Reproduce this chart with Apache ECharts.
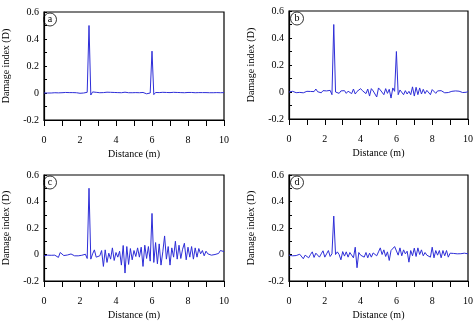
<!DOCTYPE html>
<html>
<head>
<meta charset="utf-8">
<script src="https://cdn.jsdelivr.net/npm/echarts@6/dist/echarts.min.js"></script>
<style>
  html, body { margin: 0; padding: 0; background: #ffffff; }
  #chart_example { width: 476px; height: 321px; }
</style>
</head>
<body>
<div id="chart_example"></div>
<script>
// distance along the beam (m)
var distance = [0, 0.1, 0.2, 0.3, 0.4, 0.5, 0.6, 0.7, 0.8, 0.9,
  1, 1.1, 1.2, 1.3, 1.4, 1.5, 1.6, 1.7, 1.8, 1.9,
  2, 2.1, 2.2, 2.3, 2.4, 2.5, 2.6, 2.7, 2.8, 2.9,
  3, 3.1, 3.2, 3.3, 3.4, 3.5, 3.6, 3.7, 3.8, 3.9,
  4, 4.1, 4.2, 4.3, 4.4, 4.5, 4.6, 4.7, 4.8, 4.9,
  5, 5.1, 5.2, 5.3, 5.4, 5.5, 5.6, 5.7, 5.8, 5.9,
  6, 6.1, 6.2, 6.3, 6.4, 6.5, 6.6, 6.7, 6.8, 6.9,
  7, 7.1, 7.2, 7.3, 7.4, 7.5, 7.6, 7.7, 7.8, 7.9,
  8, 8.1, 8.2, 8.3, 8.4, 8.5, 8.6, 8.7, 8.8, 8.9,
  9, 9.1, 9.2, 9.3, 9.4, 9.5, 9.6, 9.7, 9.8, 9.9, 10];

// damage index, panel a
var damageA = [0, 0, 0, 0, 0, 0, 0.002, -0.002, 0.001, 0,
  0.002, -0.003, 0.004, -0.003, 0.003, -0.002, 0.003, -0.004, 0.002, 0.004,
  -0.002, 0.003, 0, 0.002, 0.005, 0.5, -0.015, 0.008, 0.003, 0.005,
  -0.003, 0.002, -0.006, 0.003, -0.002, 0.006, 0.002, 0.005, -0.002, 0.004,
  -0.004, 0.003, -0.003, 0.002, -0.004, 0.006, -0.005, 0.002, -0.003, 0.002,
  -0.004, 0.003, -0.002, 0.002, -0.004, 0.004, -0.003, -0.006, 0.003, 0,
  0.31, -0.012, 0.004, 0, 0.003, -0.004, 0.005, -0.002, 0.004, -0.004,
  0.003, -0.002, 0.005, -0.003, 0.004, -0.002, 0.003, -0.003, 0.002, -0.004,
  0.004, -0.002, 0.004, -0.003, 0.002, -0.002, 0.003, -0.003, 0.003, -0.002,
  0.003, -0.002, 0.002, -0.001, 0.002, -0.002, 0.003, -0.001, 0.002, 0.004, 0.003];

// panel b
var damageB = [0, 0.002, 0.005, 0.008, -0.005, 0.006, -0.003, 0.004, -0.006, 0.003,
  0.005, -0.008, 0.004, -0.004, 0.003, 0.022, 0.002, 0.008, -0.006, 0.01,
  -0.004, 0.008, 0.002, 0.012, -0.02, 0.5, 0, 0.012, -0.01, 0.008,
  -0.006, 0.01, -0.01, 0.006, 0.02, -0.012, 0.022, -0.015, 0.004, -0.008,
  0.025, 0.01, 0.015, -0.012, 0.022, -0.03, 0.025, 0.008, 0.022, -0.037,
  0.03, 0.015, 0.022, -0.02, 0.025, -0.01, 0.02, -0.045, 0.03, 0.005,
  0.3, -0.02, 0.015, 0.01, -0.02, 0.01, -0.015, 0.005, -0.02, 0.038,
  -0.03, 0.035, -0.02, 0.03, -0.015, 0.02, -0.012, 0.012, 0, -0.02,
  0.018, 0.012, -0.01, 0.008, -0.006, 0.01, 0.004, -0.006, 0.006, -0.004,
  0.008, 0.005, -0.003, 0.008, -0.005, 0.006, 0.002, -0.004, 0.005, -0.002, 0.003];

// panel c
var damageC = [-0.01, -0.012, -0.005, -0.008, -0.006, -0.01, -0.005, -0.008, -0.022, 0.015,
  0.002, -0.008, 0, -0.004, 0.008, 0.004, 0.012, -0.01, -0.022, -0.01,
  0, -0.006, -0.012, 0.002, -0.03, 0.5, -0.035, 0.005, 0.035, -0.02,
  -0.03, -0.01, 0.03, -0.09, 0.035, -0.06, 0.01, -0.035, 0.05, -0.045,
  0.015, -0.02, 0.025, -0.08, 0.068, -0.14, 0.06, -0.075, 0.045, -0.04,
  0.03, -0.015, 0.05, -0.02, 0.055, -0.09, 0.07, -0.03, 0.06, -0.05,
  0.31, -0.06, 0.09, -0.07, 0.08, -0.08, 0.02, 0.14, -0.035, 0.06,
  -0.08, 0.05, -0.02, 0.1, -0.035, 0.07, -0.03, 0.04, 0.085, -0.04,
  0.055, -0.02, 0.06, -0.035, 0.05, -0.02, 0.045, 0.005, 0.03, -0.01,
  0.025, 0.005, 0.015, -0.005, 0.01, 0, -0.005, 0.008, 0.03, 0.03, 0.022];

// panel d
var damageD = [-0.005, -0.004, -0.01, -0.002, -0.008, -0.015, 0.002, -0.01, -0.032, -0.005,
  0.002, -0.025, 0, 0.02, -0.022, 0.01, 0.018, -0.02, 0.005, 0.028,
  -0.02, 0.005, 0.03, -0.015, 0.005, 0.29, 0, 0.02, 0, -0.04,
  0.022, -0.012, 0.02, -0.02, 0.015, 0.03, -0.025, 0.055, -0.1, 0.015,
  -0.005, 0.01, -0.02, 0.015, -0.025, 0.01, -0.02, 0.012, 0.025, -0.01,
  0.02, 0.05, 0, 0.035, -0.015, 0.02, -0.045, 0.03, 0.045, 0.06,
  0.075, -0.005, 0.05, -0.01, 0.035, 0.005, 0.025, -0.058, 0.03, -0.01,
  0.048, -0.015, 0.05, 0, 0.035, -0.01, 0.015, -0.005, 0.01, -0.02,
  0.055, -0.025, 0.03, -0.005, 0.03, -0.025, 0.03, -0.01, 0.03, -0.02,
  0.01, 0.01, 0.008, 0, 0.005, 0.002, 0.006, 0.004, 0.01, 0.008, 0.005];

var panelLetters = ["a", "b", "c", "d"];
var panelData = [damageA, damageB, damageC, damageD];

var fontName = "Liberation Serif";
var lineColor = "#2e2ed8";

// plot box of each panel
var boxes = [
  { left: 42, top: 12 },
  { left: 289, top: 11 },
  { left: 42, top: 175 },
  { left: 289, top: 175 }
];
var boxW = 182, boxH = 108;

var grids = [], xAxes = [], yAxes = [], series = [], graphics = [];

boxes.forEach(function (b, i) {
  grids.push({
    left: b.left, top: b.top, width: boxW, height: boxH,
    show: true, borderColor: "#000", borderWidth: 1.2, backgroundColor: "transparent"
  });
  xAxes.push({
    type: "value", gridIndex: i, min: 0, max: 10, interval: 1,
    name: "Distance (m)", nameLocation: "middle", nameGap: 29,
    nameTextStyle: { fontFamily: fontName, fontSize: 10, color: "#000" },
    axisLine: { onZero: false, lineStyle: { color: "#000", width: 1.2 } },
    axisTick: { show: true, inside: false, length: 6, lineStyle: { color: "#000" } },
    axisLabel: {
      fontFamily: fontName, fontSize: 10, color: "#000", margin: 15,
      formatter: function (v) { return v % 2 === 0 ? String(v) : ""; }
    },
    splitLine: { show: false }
  });
  yAxes.push({
    type: "value", gridIndex: i, min: -0.2, max: 0.6, interval: 0.1,
    name: "Damage index (D)", nameLocation: "middle", nameGap: 33,
    nameTextStyle: { fontFamily: fontName, fontSize: 10, color: "#000" },
    axisLine: { show: true, lineStyle: { color: "#000", width: 1.2 } },
    axisTick: { show: true, inside: true, length: 3, lineStyle: { color: "#000" } },
    axisLabel: {
      fontFamily: fontName, fontSize: 10, color: "#000", margin: 5,
      formatter: function (v) {
        var k = Math.round(v * 10);
        if (k % 2 !== 0) return "";
        return k === 0 ? "0" : (k / 10).toFixed(1);
      }
    },
    splitLine: { show: false }
  });
  series.push({
    type: "line", xAxisIndex: i, yAxisIndex: i,
    showSymbol: false, symbol: "none",
    lineStyle: { color: lineColor, width: 1 },
    data: distance.map(function (x, k) { return [x, panelData[i][k]]; })
  });
  // circled panel letter
  graphics.push({
    type: "circle",
    shape: { cx: b.left + 8, cy: b.top + 7.5, r: 6.5 },
    style: { fill: "#fff", stroke: "#000", lineWidth: 0.8 }
  });
  graphics.push({
    type: "text",
    x: b.left + 8, y: b.top + 7.5,
    style: {
      text: panelLetters[i], fontFamily: fontName, fontSize: 10, fill: "#000",
      align: "center", verticalAlign: "middle"
    }
  });
});

var myChart = echarts.init(document.getElementById("chart_example"));
myChart.setOption({
  backgroundColor: "#ffffff",
  animation: false,
  grid: grids,
  xAxis: xAxes,
  yAxis: yAxes,
  series: series,
  graphic: graphics
});
</script>
</body>
</html>
